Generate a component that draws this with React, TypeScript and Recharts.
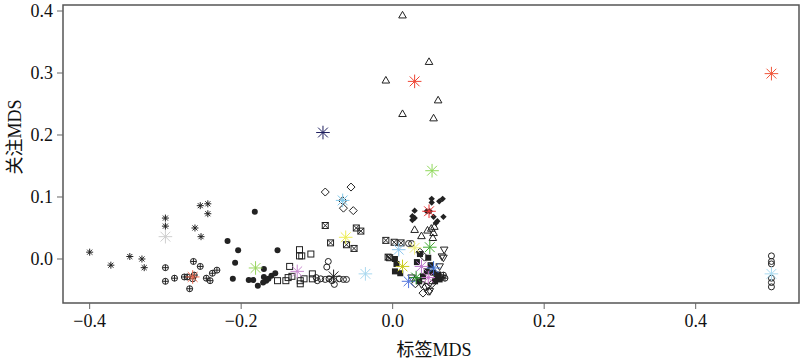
import { ScatterChart, Scatter, XAxis, YAxis, ReferenceArea } from 'recharts';

type Pt = [number, number];

const xTicks = [-0.4, -0.2, 0, 0.2, 0.4];
const yTicks = [0, 0.1, 0.2, 0.3, 0.4];
const xDomain: [number, number] = [-0.4352, 0.5364];
const yDomain: [number, number] = [-0.071, 0.4097];

// small black markers, one list per symbol
const asteriskPts: Pt[] = [
  [-0.400, 0.011], [-0.372, -0.010], [-0.347, 0.004], [-0.331, 0.000], [-0.328, -0.014],
  [-0.300, 0.066], [-0.300, 0.053], [-0.254, 0.086], [-0.244, 0.089], [-0.244, 0.073],
  [-0.261, 0.050], [-0.253, 0.036],
];
const circlePlusPts: Pt[] = [
  [-0.300, -0.014], [-0.300, -0.036], [-0.288, -0.031], [-0.263, -0.004], [-0.254, -0.012],
  [-0.271, -0.029], [-0.264, -0.032], [-0.268, -0.048], [-0.246, -0.031], [-0.241, -0.035],
  [-0.238, -0.023], [-0.232, -0.018], [-0.275, -0.029], [-0.262, -0.026],
  [0.067, -0.026], [0.069, -0.031], [0.064, -0.030],
];
const dotPts: Pt[] = [
  [-0.182, 0.076], [-0.218, 0.029], [-0.204, 0.014], [-0.208, -0.006], [-0.211, -0.032],
  [-0.190, -0.034], [-0.184, -0.034], [-0.178, -0.043], [-0.170, -0.016], [-0.170, -0.029],
  [-0.167, -0.035], [-0.164, -0.032], [-0.152, 0.014], [-0.160, -0.027], [-0.155, -0.023],
  [-0.171, -0.038],
];
const squarePts: Pt[] = [
  [-0.123, 0.015], [-0.123, 0.005], [-0.120, 0.005], [-0.108, 0.008], [-0.136, -0.012],
  [-0.152, -0.035], [-0.141, -0.035], [-0.138, -0.030], [-0.133, -0.028], [-0.122, -0.035],
  [-0.122, -0.040], [-0.117, -0.032], [-0.106, -0.024], [-0.106, -0.032],
];
const circlePts: Pt[] = [
  [-0.085, -0.004], [-0.087, -0.013], [-0.101, -0.030], [-0.0995, -0.035], [-0.095, -0.032],
  [-0.089, -0.033], [-0.084, -0.032], [-0.077, -0.041], [-0.0705, -0.032], [-0.065, -0.033],
  [-0.061, -0.033], [-0.080, -0.035],
  [0.021, 0.025], [0.025, 0.025],
  [0.5, 0.005], [0.5, -0.004], [0.5, -0.008], [0.5, -0.031], [0.5, -0.038], [0.5, -0.045],
];
const diamondPts: Pt[] = [
  [-0.089, 0.108], [-0.055, 0.116], [-0.065, 0.082], [-0.052, 0.078], [-0.066, 0.094],
  [0.036, 0.011], [0.042, 0.003], [0.040, -0.055], [0.047, -0.052], [0.044, -0.045],
  [0.030, -0.040], [0.052, -0.040],
];
const squareXPts: Pt[] = [
  [-0.089, 0.054], [-0.082, 0.026], [-0.061, 0.023], [-0.051, 0.017], [-0.048, 0.050],
  [-0.042, 0.045], [-0.009, 0.030], [0.002, 0.027], [0.011, 0.026], [-0.006, 0.003],
  [-0.004, 0.002],
];
const trianglePts: Pt[] = [
  [0.013, 0.393], [0.048, 0.318], [-0.009, 0.288], [0.060, 0.256], [0.013, 0.234],
  [0.054, 0.227], [0.029, 0.047], [0.038, 0.037], [0.046, 0.046], [0.051, 0.049],
  [0.054, 0.042], [0.053, 0.034], [0.055, 0.052],
];
const filledDiamondPts: Pt[] = [
  [0.0515, 0.097], [0.0515, 0.091], [0.0615, 0.093], [0.066, 0.097], [0.029, 0.078],
  [0.026, 0.069], [0.029, 0.066], [0.026, 0.063], [0.045, 0.077], [0.049, 0.077],
  [0.054, 0.068], [0.059, 0.061], [0.067, 0.068], [0.057, 0.058],
];
const filledSquarePts: Pt[] = [
  [0.003, 0.000], [0.005, -0.008], [0.003, -0.020], [0.010, -0.023], [0.036, 0.008],
  [0.047, 0.002], [0.058, -0.031], [0.060, -0.025], [0.062, -0.033], [0.056, -0.036],
  [0.045, -0.020], [0.050, -0.010], [0.032, -0.005], [0.040, -0.028], [0.035, -0.036],
  [0.053, -0.022],
];
const triangleDownPts: Pt[] = [
  [0.068, 0.015], [0.065, 0.004], [0.067, 0.002], [0.047, -0.044], [0.049, -0.052],
  [0.038, -0.041], [0.062, -0.012], [0.025, -0.030],
];

// group centres (big coloured asterisks)
const centroidPts: Pt[] = [
  [-0.300, 0.036], [-0.264, -0.029], [-0.181, -0.0145], [-0.126, -0.020], [-0.078, -0.028],
  [-0.036, -0.024], [-0.066, 0.0945], [-0.062, 0.035], [-0.092, 0.204], [0.029, 0.2865],
  [0.052, 0.1424], [0.048, 0.077], [0.5, 0.299], [0.5, -0.024], [0.008, 0.015],
  [0.029, 0.018], [0.049, 0.019], [0.013, -0.012], [0.021, -0.036], [0.031, -0.030],
  [0.038, -0.012], [0.054, -0.0145], [0.047, -0.030],
];
const centroidColors = [
  '#cfcfcf', '#f26b4f', '#99d65e', '#c98bd0', '#222222',
  '#a8d8ef', '#7ec8ea', '#eeee55', '#1f1f5f', '#ee4433',
  '#8fd85a', '#ee3333', '#f05538', '#a8daf0', '#90c8ee',
  '#eeee77', '#44aa33', '#cccc22', '#5577dd', '#228822',
  '#bb77cc', '#3366cc', '#cc77cc',
];

const INK = '#222';
const FONT = "'Liberation Serif', 'Noto Sans CJK SC', serif";

const toRows = (pts: Pt[]) => pts.map(([x, y]) => ({ x, y }));
const centroidRows = centroidPts.map(([x, y], i) => ({ x, y, color: centroidColors[i] }));

type Kind =
  | 'asterisk' | 'circlePlus' | 'dot' | 'square' | 'circle' | 'diamond'
  | 'squareX' | 'triangle' | 'filledDiamond' | 'filledSquare' | 'triangleDown';

function star(cx: number, cy: number, r: number, color: string, w: number) {
  const d = r * 0.72;
  return (
    <g stroke={color} strokeWidth={w} fill="none">
      <line x1={cx - r} y1={cy} x2={cx + r} y2={cy} />
      <line x1={cx} y1={cy - r} x2={cx} y2={cy + r} />
      <line x1={cx - d} y1={cy - d} x2={cx + d} y2={cy + d} />
      <line x1={cx - d} y1={cy + d} x2={cx + d} y2={cy - d} />
    </g>
  );
}

const marker = (kind: Kind) => (p: any) => {
  const { cx, cy } = p;
  if (cx == null || cy == null) return <g />;
  switch (kind) {
    case 'asterisk':
      return star(cx, cy, 3.5, INK, 1);
    case 'circlePlus':
      return (
        <g stroke={INK} strokeWidth={1} fill="none">
          <circle cx={cx} cy={cy} r={3} />
          <line x1={cx - 3} y1={cy} x2={cx + 3} y2={cy} />
          <line x1={cx} y1={cy - 3} x2={cx} y2={cy + 3} />
        </g>
      );
    case 'dot':
      return <circle cx={cx} cy={cy} r={3} fill={INK} />;
    case 'square':
      return <rect x={cx - 3} y={cy - 3} width={6} height={6} fill="none" stroke={INK} strokeWidth={1} />;
    case 'circle':
      return <circle cx={cx} cy={cy} r={3} fill="none" stroke={INK} strokeWidth={1} />;
    case 'diamond':
      return <path d={`M${cx},${cy - 4}L${cx + 4},${cy}L${cx},${cy + 4}L${cx - 4},${cy}Z`} fill="none" stroke={INK} strokeWidth={1} />;
    case 'squareX':
      return (
        <g stroke={INK} strokeWidth={1} fill="none">
          <rect x={cx - 3} y={cy - 3} width={6} height={6} />
          <line x1={cx - 3} y1={cy - 3} x2={cx + 3} y2={cy + 3} />
          <line x1={cx - 3} y1={cy + 3} x2={cx + 3} y2={cy - 3} />
        </g>
      );
    case 'triangle':
      return <path d={`M${cx},${cy - 4}L${cx + 3.8},${cy + 2.6}L${cx - 3.8},${cy + 2.6}Z`} fill="none" stroke={INK} strokeWidth={1} />;
    case 'triangleDown':
      return <path d={`M${cx},${cy + 4}L${cx + 3.8},${cy - 2.6}L${cx - 3.8},${cy - 2.6}Z`} fill="none" stroke={INK} strokeWidth={1} />;
    case 'filledDiamond':
      return <path d={`M${cx},${cy - 3.2}L${cx + 3.2},${cy}L${cx},${cy + 3.2}L${cx - 3.2},${cy}Z`} fill={INK} />;
    case 'filledSquare':
      return <rect x={cx - 3} y={cy - 3} width={6} height={6} fill={INK} />;
  }
  return <g />;
};

const centroidShape = (p: any) => {
  const { cx, cy, payload } = p;
  if (cx == null || cy == null) return <g />;
  return star(cx, cy, 6.8, payload.color, 1);
};

const fmtX = (v: number) => (v < 0 ? '\u2212' + Math.abs(v).toFixed(1) : v.toFixed(1));
const fmtY = (v: number) => Math.abs(v).toFixed(1);

const groups: [Kind, Pt[]][] = [
  ['asterisk', asteriskPts],
  ['circlePlus', circlePlusPts],
  ['dot', dotPts],
  ['square', squarePts],
  ['circle', circlePts],
  ['diamond', diamondPts],
  ['squareX', squareXPts],
  ['triangle', trianglePts],
  ['filledDiamond', filledDiamondPts],
  ['filledSquare', filledSquarePts],
  ['triangleDown', triangleDownPts],
];

export default function App() {
  const tickStyle = { fontSize: 18, fill: '#111', fontFamily: FONT };
  return (
    <div style={{ position: 'absolute', left: 0, top: 0, width: 800, height: 359, background: '#fff' }}>
      <ScatterChart width={800} height={359} margin={{ top: 5, right: 1, left: 0, bottom: 0 }}>
        <XAxis
          type="number" dataKey="x" domain={xDomain} ticks={xTicks} allowDataOverflow
          tickFormatter={fmtX} axisLine={false} tickSize={6} tickMargin={5}
          tickLine={{ stroke: '#666' }} tick={tickStyle} height={56}
          label={{ value: '标签MDS', position: 'insideBottom', offset: 3, dx: 3, fontSize: 18, fill: '#111', fontFamily: FONT }}
        />
        <YAxis
          type="number" dataKey="y" domain={yDomain} ticks={yTicks} allowDataOverflow
          tickFormatter={fmtY} axisLine={false} tickSize={6} tickMargin={4}
          tickLine={{ stroke: '#666' }} tick={tickStyle} width={63}
          label={{
            content: () => (
              <text x={15} y={137} transform="rotate(-90 15 137)" textAnchor="middle"
                dominantBaseline="central" fontSize={18} fill="#111" fontFamily={FONT}>
                关注MDS
              </text>
            ),
          }}
        />
        <ReferenceArea x1={xDomain[0]} x2={xDomain[1]} y1={yDomain[0]} y2={yDomain[1]}
          fill="none" fillOpacity={0} stroke="#555" strokeWidth={1.5} ifOverflow="visible" />
        {groups.map(([kind, pts]) => (
          <Scatter key={kind} data={toRows(pts)} shape={marker(kind)} isAnimationActive={false} />
        ))}
        <Scatter data={centroidRows} shape={centroidShape} isAnimationActive={false} />
      </ScatterChart>
    </div>
  );
}
